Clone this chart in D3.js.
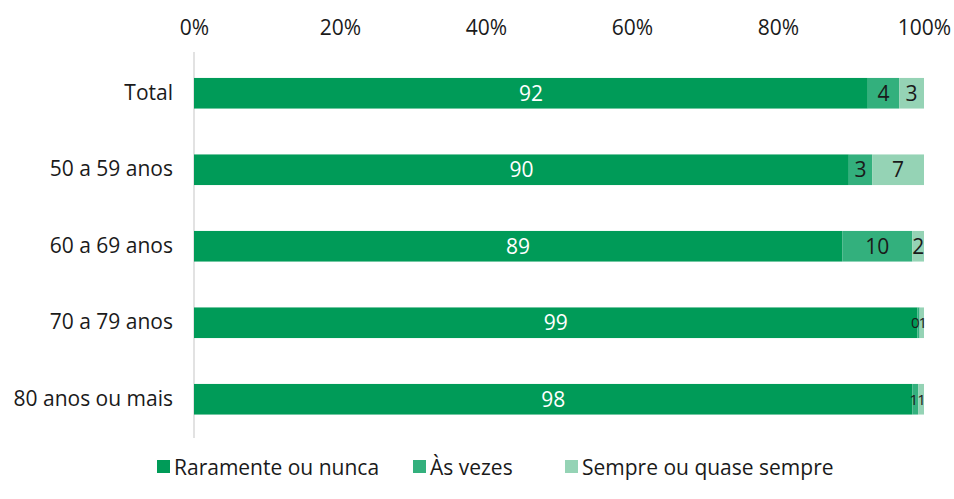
<!DOCTYPE html>
<html>
<head>
<meta charset="utf-8">
<script src="https://cdn.jsdelivr.net/npm/d3@7"></script>
<style>
  body { margin: 0; background: #fff; }
  text { font-family: "Open Sans", Lato, sans-serif; }
</style>
</head>
<body>
<div id="chart"></div>
<script>
// Data
const categories = ["Total", "50 a 59 anos", "60 a 69 anos", "70 a 79 anos", "80 anos ou mais"];
const seriesNames = ["Raramente ou nunca", "Às vezes", "Sempre ou quase sempre"];
const raramente = [92.3, 89.7, 88.8, 99.1, 98.4];
const asVezes = [4.3, 3.2, 9.6, 0.3, 0.8];
const sempre = [3.4, 7.1, 1.6, 0.6, 0.8];
const tickValues = [0, 20, 40, 60, 80, 100];

const colors = ["#009b58", "#33b07d", "#95d3b5"];
const textColors = ["#fff", "#1a1a1a", "#1a1a1a"];

const width = 954, height = 499;
const margin = { top: 55, right: 30, bottom: 61.5, left: 194 };
const fontSize = 21;

const svg = d3.select("#chart")
  .append("svg")
  .attr("width", width)
  .attr("height", height);

const x = d3.scaleLinear()
  .domain([0, 100])
  .range([margin.left, width - margin.right]);

const y = d3.scaleBand()
  .domain(categories)
  .range([margin.top, height - margin.bottom])
  .paddingInner(0.6)
  .paddingOuter(0.3);

// table for the stack
const table = categories.map((c, i) => ({
  cat: c,
  [seriesNames[0]]: raramente[i],
  [seriesNames[1]]: asVezes[i],
  [seriesNames[2]]: sempre[i]
}));
const stacked = d3.stack().keys(seriesNames)(table);

// top axis
const xAxis = d3.axisTop(x)
  .tickValues(tickValues)
  .tickFormat(d => d + "%")
  .tickSize(0)
  .tickPadding(0);
svg.append("g")
  .attr("transform", "translate(0,35)")
  .call(xAxis)
  .call(g => g.select(".domain").remove())
  .selectAll("text")
  .attr("font-size", fontSize)
  .attr("fill", "#1a1a1a")
  .attr("font-family", "'Open Sans', sans-serif");

// vertical baseline
svg.append("line")
  .attr("x1", x(0)).attr("x2", x(0))
  .attr("y1", 52).attr("y2", 438)
  .attr("stroke", "#d9d9d9")
  .attr("stroke-width", 1.5);

// category labels
const yAxis = d3.axisLeft(y).tickSize(0).tickPadding(21);
svg.append("g")
  .attr("transform", `translate(${x(0)},0)`)
  .call(yAxis)
  .call(g => g.select(".domain").remove())
  .selectAll("text")
  .attr("font-size", fontSize)
  .attr("fill", "#1a1a1a")
  .attr("font-family", "'Open Sans', sans-serif");

// bars
const layers = svg.append("g")
  .selectAll("g")
  .data(stacked)
  .join("g")
  .attr("fill", (d, i) => colors[i]);

layers.selectAll("rect")
  .data(d => d)
  .join("rect")
  .attr("x", d => x(d[0]))
  .attr("y", d => y(d.data.cat))
  .attr("width", d => x(d[1]) - x(d[0]))
  .attr("height", y.bandwidth());

// value labels; tiny segments get small labels pushed apart
const tiny = d => (d[1] - d[0]) < 1.5;
stacked.forEach((layer, i) => {
  svg.append("g")
    .selectAll("text")
    .data(layer)
    .join("text")
    .attr("x", d => {
      if (!tiny(d)) return (x(d[0]) + x(d[1])) / 2;
      return i === 1 ? x(d[1]) - 1 : x(d[0]) - 1;
    })
    .attr("y", d => y(d.data.cat) + y.bandwidth() / 2)
    .attr("dy", "0.36em")
    .attr("text-anchor", d => !tiny(d) ? "middle" : (i === 1 ? "end" : "start"))
    .attr("font-size", d => tiny(d) ? 15 : fontSize)
    .attr("letter-spacing", d => tiny(d) ? -1 : 0)
    .attr("fill", textColors[i])
    .text(d => Math.round(d[1] - d[0]));
});

// legend
const legendX = [157, 413, 565];
const legend = svg.append("g")
  .selectAll("g")
  .data(seriesNames)
  .join("g")
  .attr("transform", (d, i) => `translate(${legendX[i]},467)`);

legend.append("rect")
  .attr("y", -7)
  .attr("width", 13)
  .attr("height", 13)
  .attr("fill", (d, i) => colors[i]);

legend.append("text")
  .attr("x", 17)
  .attr("dy", "0.36em")
  .attr("font-size", fontSize)
  .attr("fill", "#1a1a1a")
  .text(d => d);
</script>
</body>
</html>
